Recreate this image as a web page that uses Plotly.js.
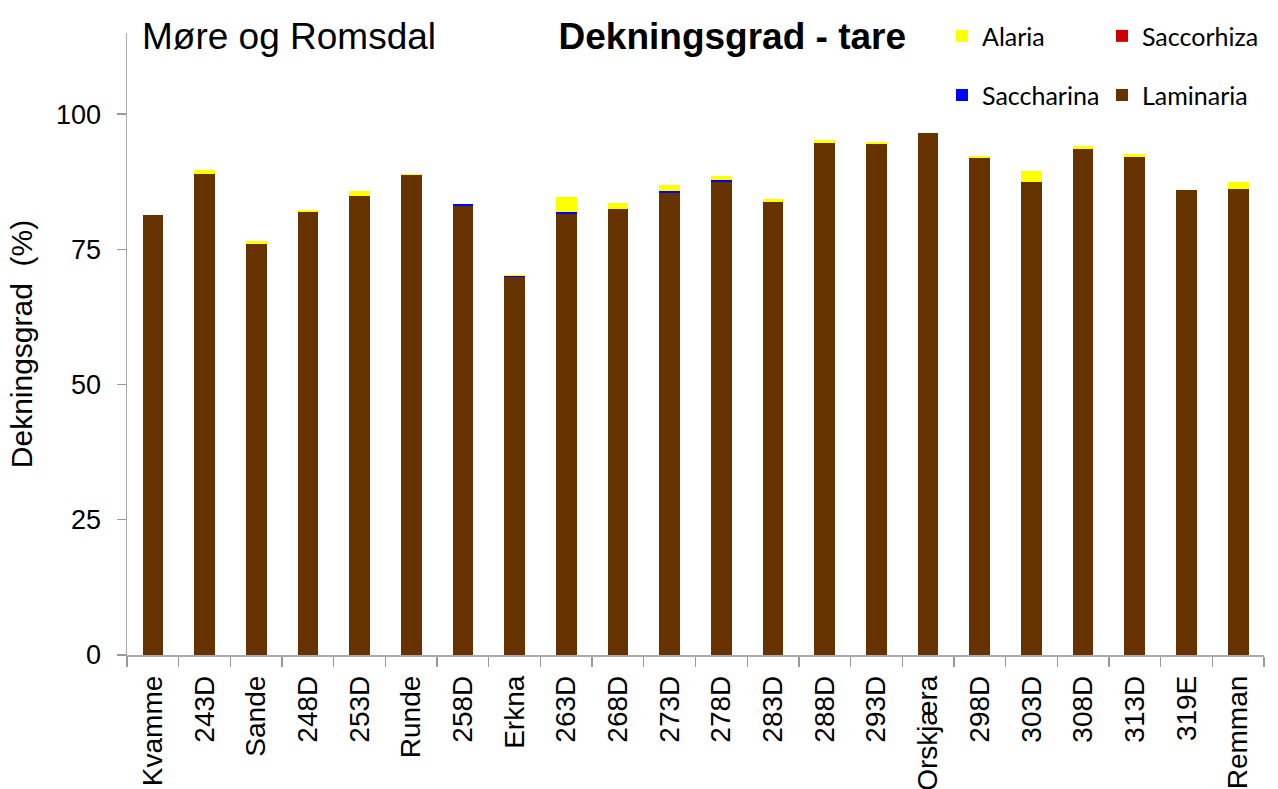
<!DOCTYPE html>
<html>
<head>
<meta charset="utf-8">
<script src="https://cdn.plot.ly/plotly-3.0.1.min.js"></script>
<style>html,body{margin:0;padding:0;background:#fff;}#chart{width:1278px;height:789px;}</style>
</head>
<body>
<div id="chart"></div>
<script>
const categories = ["Kvamme","243D","Sande","248D","253D","Runde","258D","Erkna","263D","268D","273D","278D","283D","288D","293D","Orskjæra","298D","303D","308D","313D","319E","Remman"];
const laminaria  = [81.4, 88.9, 75.9, 81.9, 84.9, 88.8, 83.0, 69.8, 81.6, 82.4, 85.4, 87.4, 83.7, 94.7, 94.4, 96.6, 91.9, 87.4, 93.6, 92.0, 85.9, 86.1];
const saccharina = [0, 0, 0, 0, 0, 0, 0.3, 0.2, 0.3, 0, 0.3, 0.4, 0, 0, 0, 0, 0, 0, 0, 0, 0, 0];
const saccorhiza = [0, 0, 0, 0, 0, 0, 0, 0, 0, 0, 0, 0, 0, 0, 0, 0, 0, 0, 0, 0, 0, 0];
const alaria     = [0, 0.7, 0.7, 0.3, 0.9, 0.1, 0, 0.3, 2.8, 1.2, 1.2, 0.8, 0.6, 0.5, 0.5, 0, 0.45, 2.0, 0.6, 0.6, 0, 1.4];
const yTicks = [0, 25, 50, 75, 100];

const font = "Liberation Sans, Arial, sans-serif";
const legendFont = "Lato, Carlito, sans-serif";

function bar(name, y, color, legend) {
  return {type: "bar", name: name, x: categories, y: y, legend: legend,
          marker: {color: color, line: {width: 0}}, hoverinfo: "x+y+name"};
}

const data = [
  bar("Laminaria", laminaria, "#663300", "legend4"),
  bar("Saccharina", saccharina, "#0000ff", "legend3"),
  bar("Saccorhiza", saccorhiza, "#cc0000", "legend2"),
  bar("Alaria", alaria, "#ffff00", "legend")
];

function leg(x, y) {
  return {
    orientation: "v", xref: "paper", yref: "paper", x: x, y: y, xanchor: "left", yanchor: "middle",
    font: {family: legendFont, size: 25, color: "#000"}, bgcolor: "rgba(0,0,0,0)", itemwidth: 30
  };
}

const layout = {
  width: 1278, height: 789,
  margin: {l: 127, r: 14, t: 33, b: 134},
  paper_bgcolor: "#fff", plot_bgcolor: "#fff",
  barmode: "stack", bargap: 0.6,
  font: {family: font, color: "#000"},
  title: {text: "<b>Dekningsgrad - tare</b>", font: {family: font, size: 37, color: "#000"},
          xref: "container", yref: "container", x: 0.573, xanchor: "center", y: 0.954, yanchor: "middle"},
  showlegend: true,
  legend: leg(0.7168, 0.995),
  legend2: leg(0.8575, 0.995),
  legend3: leg(0.7168, 0.900),
  legend4: leg(0.8575, 0.900),
  xaxis: {
    type: "category", tickangle: -90, tickson: "boundaries", ticks: "outside", ticklen: 10,
    tickcolor: "#999", tickwidth: 1.3, showline: true, linecolor: "#aaa", linewidth: 1.5,
    ticklabelstandoff: 8,
    tickfont: {family: font, size: 28, color: "#000"}, showgrid: false, automargin: false, zeroline: false
  },
  yaxis: {
    range: [0, 115], tickvals: yTicks, ticktext: yTicks.map(String), ticks: "outside", ticklen: 9,
    tickcolor: "#999", tickwidth: 1.3, showline: true, linecolor: "#aaa", linewidth: 1.5,
    ticklabelstandoff: 10,
    tickfont: {family: font, size: 27, color: "#000"}, showgrid: false, zeroline: false, automargin: false,
    title: {text: "Dekningsgrad\u00a0\u00a0(%)", font: {family: font, size: 30, color: "#000"}, standoff: 14}
  },
  annotations: [{
    text: "Møre og Romsdal", xref: "paper", yref: "paper", x: 0.011, xanchor: "left",
    y: 0.995, yanchor: "middle", showarrow: false, font: {family: font, size: 37, color: "#000"}
  }]
};

Plotly.newPlot("chart", data, layout, {displayModeBar: false, staticPlot: true});
</script>
</body>
</html>
